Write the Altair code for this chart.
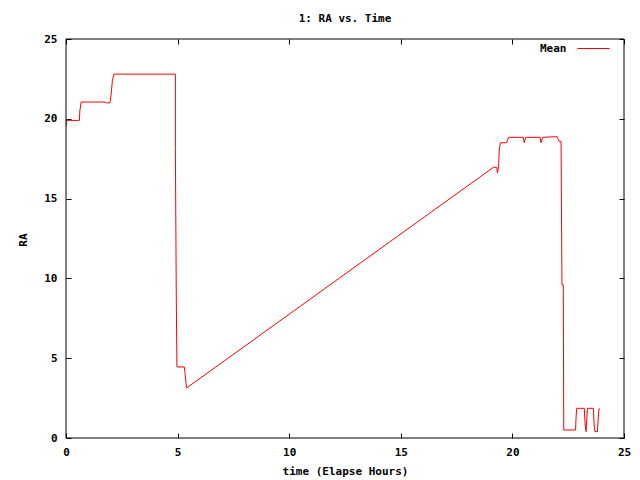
import altair as alt
import pandas as pd

# Mean RA vs elapsed time
time_h = [0.0, 0.02, 0.6, 0.62, 0.68, 1.75, 1.8, 1.97, 2.02, 2.08, 2.15,
          4.9, 4.9, 4.94, 4.97, 5.3, 5.33, 5.4,
          19.15, 19.3, 19.33, 19.38, 19.41, 19.46, 19.74, 19.83,
          20.49, 20.53, 20.6, 21.24, 21.28, 21.35, 22.0, 22.1, 22.18,
          22.22, 22.28, 22.3, 22.83, 22.85, 22.88, 23.22, 23.26, 23.3,
          23.36, 23.63, 23.66, 23.7, 23.81, 23.86, 23.89]
ra = [19.5, 19.9, 19.9, 20.5, 21.05, 21.05, 21.0, 21.0, 21.5, 22.4, 22.8,
      22.8, 18.2, 9.1, 4.45, 4.45, 4.1, 3.13,
      16.96, 16.96, 16.6, 17.0, 18.05, 18.5, 18.5, 18.84,
      18.84, 18.5, 18.84, 18.84, 18.5, 18.84, 18.88, 18.57, 18.57,
      9.6, 9.6, 0.5, 0.5, 1.23, 1.86, 1.86, 0.81, 0.4,
      1.86, 1.86, 0.81, 0.4, 0.4, 1.55, 1.86]
series = ["Mean"] * len(time_h)

x_ticks = [0, 5, 10, 15, 20, 25]
y_ticks = [0, 5, 10, 15, 20, 25]

FONT = "DejaVu Sans Mono"
TICK = 5

df = pd.DataFrame({"t": time_h, "ra": ra, "series": series})
df["order"] = range(len(df))

xs = alt.Scale(domain=[0, 25], nice=False, zero=False)
ys = alt.Scale(domain=[0, 25], nice=False, zero=False)

common = dict(grid=False, domain=False, tickColor="black", tickWidth=1,
              tickSize=TICK, offset=-TICK, labelFlush=False,
              labelFont=FONT, labelFontSize=11, labelFontWeight="bold",
              labelColor="black", titleFont=FONT, titleFontSize=11,
              titleFontWeight="bold", titleColor="black")

line = alt.Chart(df).mark_line(strokeWidth=1, clip=True).encode(
    x=alt.X("t:Q", scale=xs, axis=alt.Axis(
        values=x_ticks, title="time (Elapse Hours)", orient="bottom",
        labelPadding=8, titlePadding=8, **common)),
    y=alt.Y("ra:Q", scale=ys, axis=alt.Axis(
        values=y_ticks, title="RA", orient="left", labelPadding=9,
        titleAngle=270, titleAlign="center", titleBaseline="middle",
        titleX=-47.5, titleY=200.5, **common)),
    order="order:Q",
    color=alt.Color("series:N", scale=alt.Scale(domain=["Mean"], range=["#ff0000"]),
                    legend=alt.Legend(
                        title="Mean", titleOrient="left", titlePadding=10,
                        titleBaseline="line-top", titleLineHeight=16,
                        titleFont=FONT, titleFontSize=11, titleFontWeight="bold",
                        titleColor="black",
                        orient="none", legendX=474, legendY=-7,
                        symbolType="stroke", symbolSize=1024, symbolStrokeWidth=1,
                        labelExpr="''", labelFontSize=1, labelOffset=0,
                        padding=0)),
)

frame = alt.Chart(df).mark_line(opacity=0).encode(
    x=alt.X("t:Q", scale=xs, axis=alt.Axis(
        values=x_ticks, title=None, orient="top", labels=False, **common)),
    y=alt.Y("ra:Q", scale=ys, axis=alt.Axis(
        values=y_ticks, title=None, orient="right", labels=False, **common)),
)

box = alt.Chart(pd.DataFrame({"a": [0]})).mark_rect(
    fill=None, fillOpacity=0, stroke="black", strokeWidth=1).encode(
    x=alt.X(datum=0, scale=xs, axis=None), x2=alt.X2(datum=25),
    y=alt.Y(datum=0, scale=ys, axis=None), y2=alt.Y2(datum=25))

chart = alt.layer(line, frame, box).resolve_axis(x="independent", y="independent").properties(
    width=558, height=399,
    autosize=alt.AutoSizeParams(type="none"),
    padding={"left": 58, "top": 31, "right": 8, "bottom": 41},
    title=alt.TitleParams("1: RA vs. Time", font=FONT, fontSize=11,
                          fontWeight="bold", color="black", offset=8, anchor="middle"),
    background="white",
).configure_view(stroke=None)

chart.save("out.html", embed_options={"renderer": "svg", "actions": False})
